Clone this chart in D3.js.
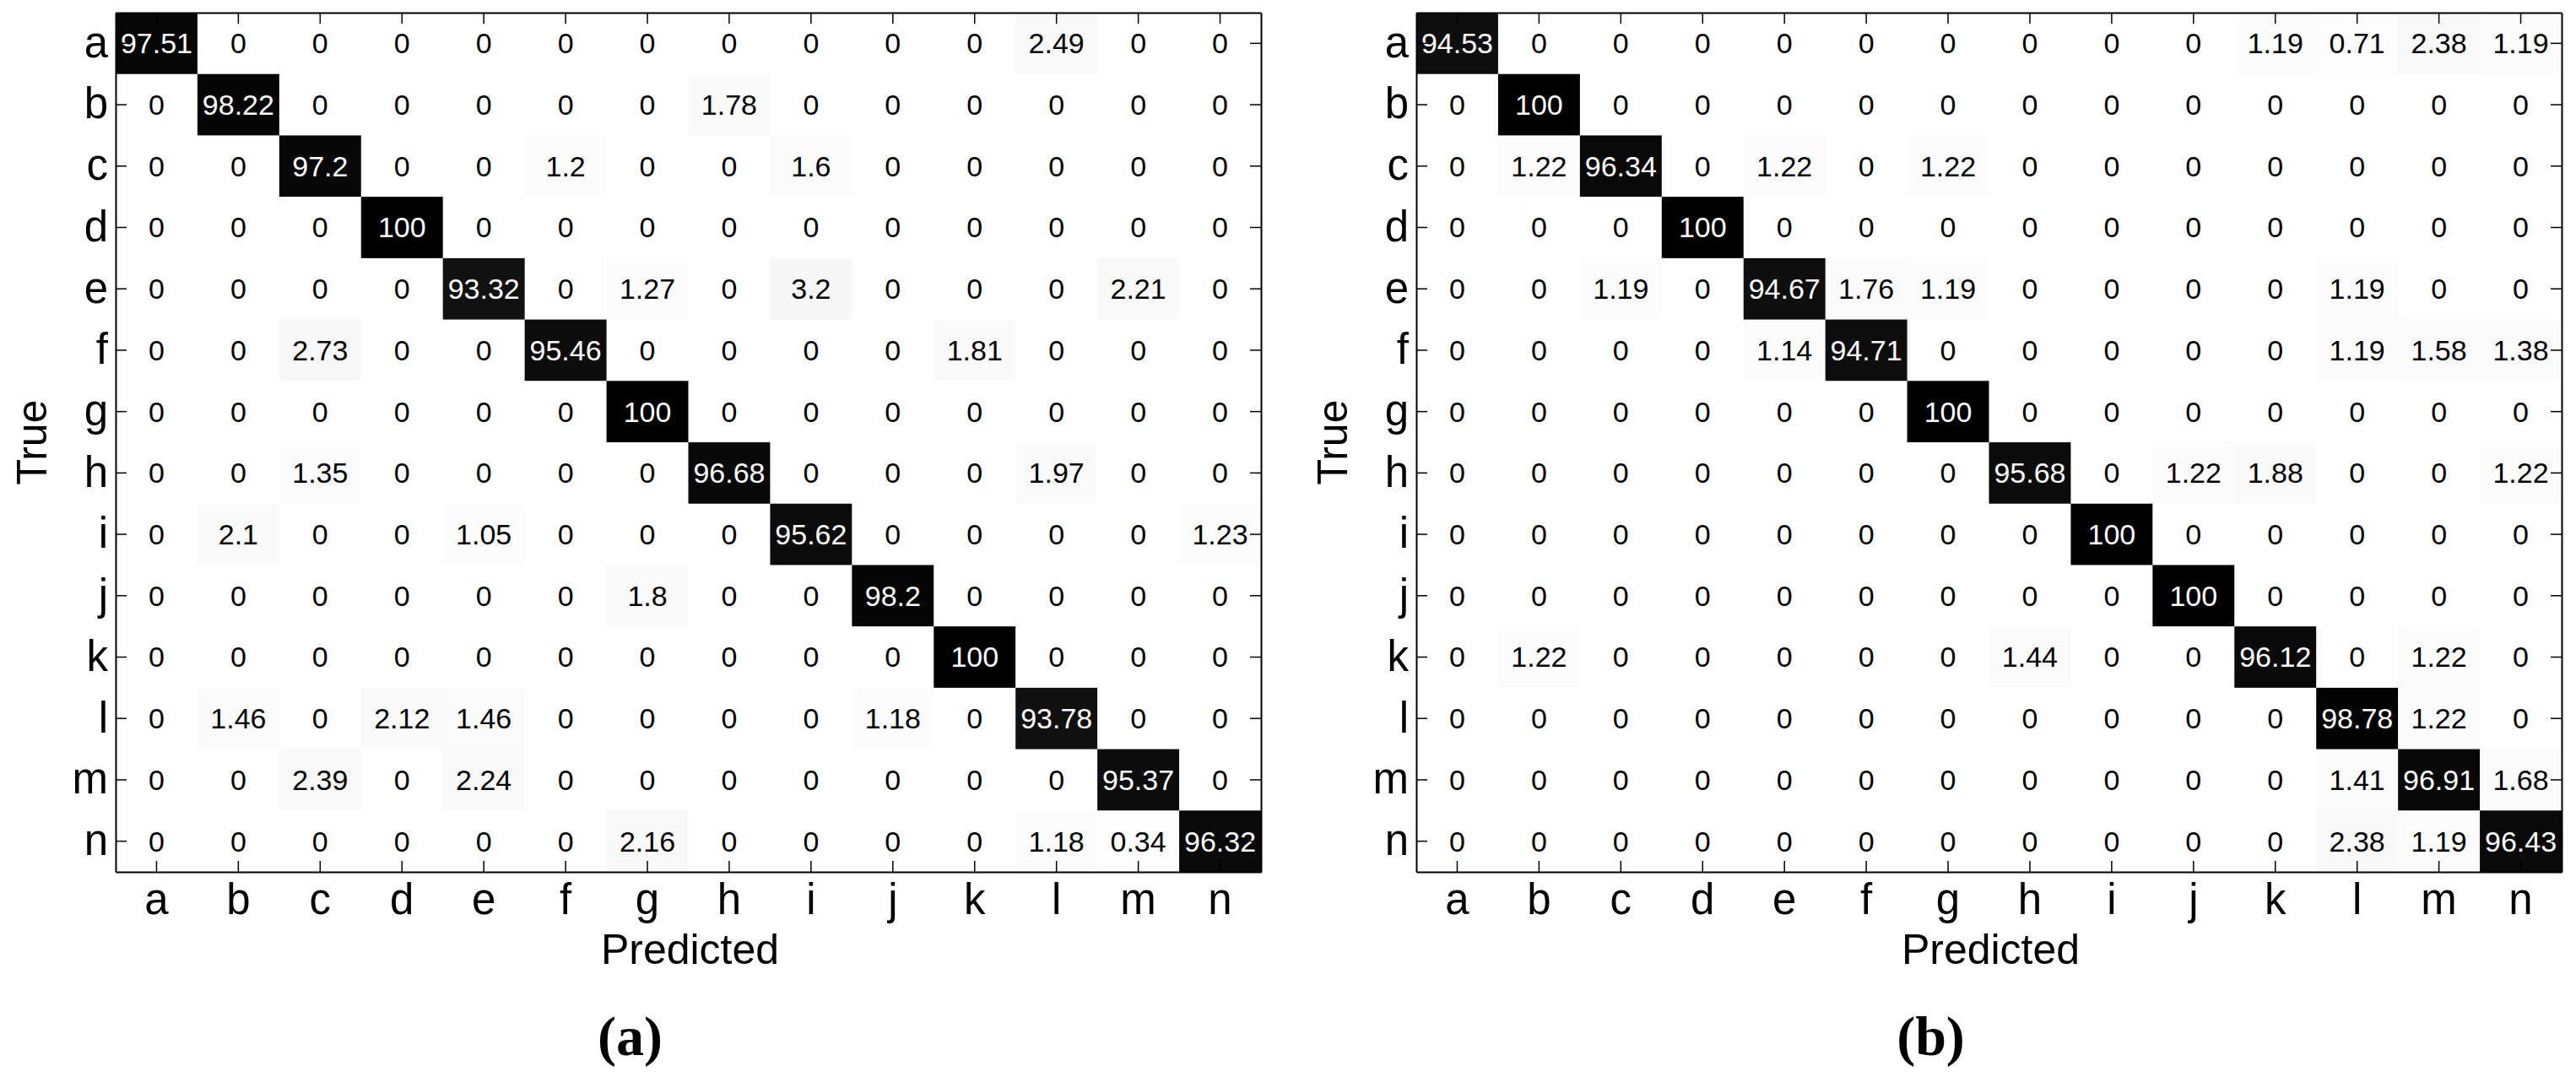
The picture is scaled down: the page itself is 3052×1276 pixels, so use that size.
<!DOCTYPE html>
<html>
<head>
<meta charset="utf-8">
<script src="https://cdn.jsdelivr.net/npm/d3@7"></script>
<style>
    body { margin: 0; background: #fff; }
    svg { display: block; }
</style>
</head>
<body>
<div id="chart"></div>
<script>
// class labels (same for true and predicted)
const classes = ["a", "b", "c", "d", "e", "f", "g", "h", "i", "j", "k", "l", "m", "n"];

// confusion matrix (a), rows = true, cols = predicted, in %
const matrixA = [
    [97.51, 0, 0, 0, 0, 0, 0, 0, 0, 0, 0, 2.49, 0, 0],
    [0, 98.22, 0, 0, 0, 0, 0, 1.78, 0, 0, 0, 0, 0, 0],
    [0, 0, 97.2, 0, 0, 1.2, 0, 0, 1.6, 0, 0, 0, 0, 0],
    [0, 0, 0, 100, 0, 0, 0, 0, 0, 0, 0, 0, 0, 0],
    [0, 0, 0, 0, 93.32, 0, 1.27, 0, 3.2, 0, 0, 0, 2.21, 0],
    [0, 0, 2.73, 0, 0, 95.46, 0, 0, 0, 0, 1.81, 0, 0, 0],
    [0, 0, 0, 0, 0, 0, 100, 0, 0, 0, 0, 0, 0, 0],
    [0, 0, 1.35, 0, 0, 0, 0, 96.68, 0, 0, 0, 1.97, 0, 0],
    [0, 2.1, 0, 0, 1.05, 0, 0, 0, 95.62, 0, 0, 0, 0, 1.23],
    [0, 0, 0, 0, 0, 0, 1.8, 0, 0, 98.2, 0, 0, 0, 0],
    [0, 0, 0, 0, 0, 0, 0, 0, 0, 0, 100, 0, 0, 0],
    [0, 1.46, 0, 2.12, 1.46, 0, 0, 0, 0, 1.18, 0, 93.78, 0, 0],
    [0, 0, 2.39, 0, 2.24, 0, 0, 0, 0, 0, 0, 0, 95.37, 0],
    [0, 0, 0, 0, 0, 0, 2.16, 0, 0, 0, 0, 1.18, 0.34, 96.32]
];

// confusion matrix (b)
const matrixB = [
    [94.53, 0, 0, 0, 0, 0, 0, 0, 0, 0, 1.19, 0.71, 2.38, 1.19],
    [0, 100, 0, 0, 0, 0, 0, 0, 0, 0, 0, 0, 0, 0],
    [0, 1.22, 96.34, 0, 1.22, 0, 1.22, 0, 0, 0, 0, 0, 0, 0],
    [0, 0, 0, 100, 0, 0, 0, 0, 0, 0, 0, 0, 0, 0],
    [0, 0, 1.19, 0, 94.67, 1.76, 1.19, 0, 0, 0, 0, 1.19, 0, 0],
    [0, 0, 0, 0, 1.14, 94.71, 0, 0, 0, 0, 0, 1.19, 1.58, 1.38],
    [0, 0, 0, 0, 0, 0, 100, 0, 0, 0, 0, 0, 0, 0],
    [0, 0, 0, 0, 0, 0, 0, 95.68, 0, 1.22, 1.88, 0, 0, 1.22],
    [0, 0, 0, 0, 0, 0, 0, 0, 100, 0, 0, 0, 0, 0],
    [0, 0, 0, 0, 0, 0, 0, 0, 0, 100, 0, 0, 0, 0],
    [0, 1.22, 0, 0, 0, 0, 0, 1.44, 0, 0, 96.12, 0, 1.22, 0],
    [0, 0, 0, 0, 0, 0, 0, 0, 0, 0, 0, 98.78, 1.22, 0],
    [0, 0, 0, 0, 0, 0, 0, 0, 0, 0, 0, 1.41, 96.91, 1.68],
    [0, 0, 0, 0, 0, 0, 0, 0, 0, 0, 0, 2.38, 1.19, 96.43]
];

const panelLabels = ["(a)", "(b)"];

const W = 3052, H = 1276;
const sans = "'Liberation Sans', Arial, Helvetica, sans-serif";

let svg = d3.select("#chart")
    .append("svg")
    .attr("width", W)
    .attr("height", H);

svg.append("rect").attr("width", W).attr("height", H).attr("fill", "#fff");

// gray colormap: 0 -> white, 100 -> black
let color = d3.scaleLinear().domain([0, 100]).range(["#ffffff", "#000000"]);

function drawPanel(matrix, left, label) {
    let top = 15, width = 1357, height = 1018;

    let g = svg.append("g").attr("transform", "translate(" + left + "," + top + ")");

    let x = d3.scaleBand().domain(classes).range([0, width]).padding(0);
    let y = d3.scaleBand().domain(classes).range([0, height]).padding(0);

    let cells = [];
    matrix.forEach((row, i) => {
        row.forEach((v, j) => {
            cells.push({t: classes[i], p: classes[j], v: v});
        });
    });

    g.selectAll("rect.cell")
        .data(cells)
        .enter()
        .append("rect")
        .attr("class", "cell")
        .attr("x", d => x(d.p))
        .attr("y", d => y(d.t))
        .attr("width", x.bandwidth() + 0.5)
        .attr("height", y.bandwidth() + 0.5)
        .attr("fill", d => color(d.v));

    g.selectAll("text.val")
        .data(cells)
        .enter()
        .append("text")
        .attr("class", "val")
        .attr("x", d => x(d.p) + x.bandwidth() / 2)
        .attr("y", d => y(d.t) + y.bandwidth() / 2)
        .attr("dy", "0.35em")
        .attr("text-anchor", "middle")
        .style("font-family", sans)
        .style("font-size", "34px")
        .attr("fill", d => d.v > 50 ? "#fff" : "#000")
        .text(d => d.v);

    // axes, ticks pointing inward like matlab
    let axes = [
        {a: d3.axisBottom(x).tickPadding(14), tr: "translate(0," + height + ")", lab: true},
        {a: d3.axisLeft(y).tickPadding(9), tr: null, lab: true},
        {a: d3.axisTop(x).tickFormat(""), tr: null, lab: false},
        {a: d3.axisRight(y).tickFormat(""), tr: "translate(" + width + ",0)", lab: false}
    ];
    axes.forEach(ax => {
        let ag = g.append("g")
            .attr("transform", ax.tr)
            .call(ax.a.tickSizeInner(-13).tickSizeOuter(0));
        ag.select(".domain").attr("stroke", "#000").attr("stroke-width", 2);
        ag.selectAll(".tick line").attr("stroke", "#000").attr("stroke-width", 1.5);
        ag.selectAll("text")
            .attr("fill", "#000")
            .style("font-family", sans)
            .style("font-size", "51px");
    });

    // axis titles
    g.append("text")
        .attr("x", width / 2 + 2)
        .attr("y", height + 109)
        .attr("text-anchor", "middle")
        .style("font-family", sans)
        .style("font-size", "50px")
        .text("Predicted");

    g.append("text")
        .attr("transform", "translate(-82," + (height / 2) + ") rotate(-90)")
        .attr("text-anchor", "middle")
        .style("font-family", sans)
        .style("font-size", "50px")
        .text("True");

    // panel caption
    g.append("text")
        .attr("x", width / 2 - 69)
        .attr("y", height + 217)
        .attr("text-anchor", "middle")
        .style("font-family", "'Liberation Serif', 'Times New Roman', serif")
        .style("font-weight", "bold")
        .style("font-size", "66px")
        .text(label);
}

drawPanel(matrixA, 137, panelLabels[0]);
drawPanel(matrixB, 1678, panelLabels[1]);
</script>
</body>
</html>
